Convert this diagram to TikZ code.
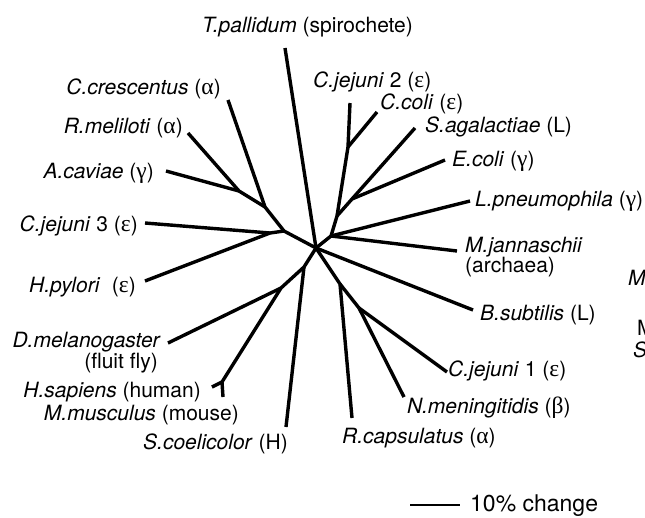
\documentclass[tikz,border=0pt]{standalone}
\usepackage{fontspec}
\setmainfont{TeX Gyre Heros}
\newfontfamily\grk[Scale=1.12]{Liberation Serif}
\newcommand\myal{{\grk α}}
\newcommand\mygam{{\grk γ}}
\newcommand\myeps{{\grk ε}}
\newcommand\mybet{{\grk β}}
\begin{document}
\begin{tikzpicture}[x=1pt,y=-1pt,
  branch/.style={line width=3.4pt, line join=round},
  lab/.style={inner sep=0pt, font=\fontsize{21}{23}\selectfont},
  labw/.style={lab, anchor=base west},
  labe/.style={lab, anchor=base east}]
\useasboundingbox (0,0) rectangle (645,517);
% internal nodes
\coordinate (R) at (316,248);
\coordinate (Nj3) at (270,233);
\coordinate (NL) at (284,231);
\coordinate (Nc) at (265,207);
\coordinate (Nra) at (239,191);
\coordinate (Ncc) at (348,147);
\coordinate (Nse) at (352,199);
\coordinate (Ns) at (337,216);
\coordinate (Nm) at (331,236);
\coordinate (Nr) at (340,284);
\coordinate (Nn) at (359,308);
\coordinate (Nsc) at (304,267);
\coordinate (Nd) at (281,288);
\coordinate (Nhm) at (222,382);
% tips
\coordinate (tTp) at (285,48);
\coordinate (tCcr) at (228,100);
\coordinate (tRme) at (188,133);
\coordinate (tAca) at (166,171);
\coordinate (tCj3) at (145,223);
\coordinate (tHpy) at (145,281);
\coordinate (tDme) at (168,343);
\coordinate (tHsa) at (212,387);
\coordinate (tMmu) at (223,397);
\coordinate (tSco) at (286,427);
\coordinate (tRca) at (352,418);
\coordinate (tNme) at (404,397);
\coordinate (tCj1) at (447,372);
\coordinate (tBsu) at (473,310);
\coordinate (tMja) at (457,251);
\coordinate (tLpn) at (470,201);
\coordinate (tEco) at (445,160);
\coordinate (tSag) at (415,128);
\coordinate (tCco) at (377,112);
\coordinate (tCj2) at (350,103);
% branches
\draw[branch] (tTp) -- (R);
\draw[branch] (tCcr) -- (Nc) -- (NL) -- (R);
\draw[branch] (tRme) -- (Nra) -- (Nc);
\draw[branch] (tAca) -- (Nra);
\draw[branch] (tCj3) -- (Nj3) -- (NL);
\draw[branch] (tHpy) -- (Nj3);
\draw[branch] (tDme) -- (Nd) -- (Nsc) -- (R);
\draw[branch] (tHsa) -- (Nhm) -- (Nd);
\draw[branch] (tMmu) -- (Nhm);
\draw[branch] (tSco) -- (Nsc);
\draw[branch] (tRca) -- (Nr) -- (R);
\draw[branch] (Nr) -- (Nn);
\draw[branch] (tNme) -- (Nn);
\draw[branch] (tCj1) -- (Nn);
\draw[branch] (tBsu) -- (R);
\draw[branch] (tMja) -- (Nm) -- (R);
\draw[branch] (tLpn) -- (Nm);
\draw[branch] (Nm) -- (Ns) -- (Ncc);
\draw[branch] (tCj2) -- (Ncc);
\draw[branch] (tCco) -- (Ncc);
\draw[branch] (tSag) -- (Nse) -- (Ns);
\draw[branch] (tEco) -- (Nse);
% labels
\node[labw] (Ltp) at (202,32) {\textit{T.pallidum} (spirochete)};
\node[labe] (Lccr) at (221,94) {\textit{C.crescentus} (\myal)};
\node[labw] (Lcj2) at (313,87) {\textit{C.jejuni} 2 (\myeps)};
\node[labw] (Lcco) at (380,109) {\textit{C.coli} (\myeps)};
\node[labw] (Lsag) at (425,132) {\textit{S.agalactiae} (L)};
\node[labe] (Lrme) at (183,133) {\textit{R.meliloti} (\myal)};
\node[labw] (Leco) at (452,166) {\textit{E.coli} (\mygam)};
\node[labe] (Laca) at (154,178) {\textit{A.caviae} (\mygam)};
\node[labw] (Llpn) at (475,206) {\textit{L.pneumophila} (\mygam)};
\node[labe] (Lcj3) at (138,231) {\textit{C.jejuni} 3 (\myeps)};
\node[labw] (Lmja) at (465,252) {\textit{M.jannaschii}};
\node[labw] (Lmja2) at (465,272) {(archaea)};
\node[labe] (Lhpy) at (136,292) {\textit{H.pylori}\ \ (\myeps)};
\node[labw] (Lbsu) at (480,320) {\textit{B.subtilis} (L)};
\node[labe] (Ldme) at (161,347) {\textit{D.melanogaster}};
\node[labe] (Ldme2) at (158,368) {(fluit fly)};
\node[labw] (Lcj1) at (448,376) {\textit{C.jejuni} 1 (\myeps)};
\node[labe] (Lhsa) at (201,397) {\textit{H.sapiens} (human)};
\node[labw] (Lnme) at (407,413) {\textit{N.meningitidis} (\mybet)};
\node[labe] (Lmmu) at (239,420) {\textit{M.musculus} (mouse)};
\node[labw] (Lrca) at (342,443) {\textit{R.capsulatus} (\myal)};
\node[labe] (Lsco) at (288,449) {\textit{S.coelicolor} (H)};
% scale bar
\coordinate (sb1) at (410,505);
\coordinate (sb2) at (460,505);
\draw[line width=1.5pt] (sb1) -- (sb2);
\node[lab, anchor=base west, font=\fontsize{23}{25}\selectfont] (Lsb) at (470,511) {10\% change};
% cut-off fragments at the right edge
\begin{scope}
\clip (0,0) rectangle (645,517);
\node[labw] (F1) at (628,285) {\textit{M}};
\node[labw] (F2) at (637,335) {M};
\node[labw] (F3) at (633,357) {\textit{S}};
\end{scope}
\end{tikzpicture}
\end{document}
